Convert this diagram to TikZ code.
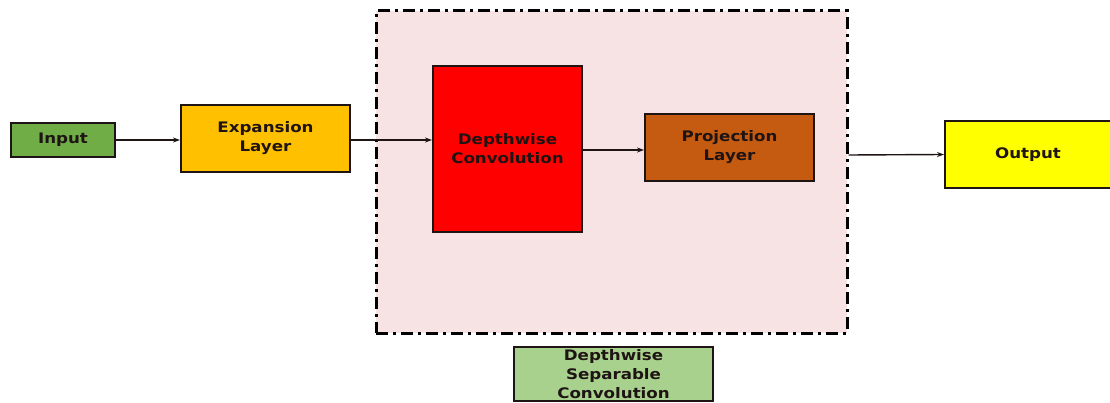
\documentclass[tikz,border=0pt]{standalone}
\usepackage{fontspec}
\setmainfont{DejaVu Sans}
\newfontfamily\lblfont[FakeStretch=1.15]{DejaVu Sans}
\usetikzlibrary{arrows.meta}
\definecolor{ingreen}{HTML}{70AD47}
\definecolor{expgold}{HTML}{FFC000}
\definecolor{projbrown}{HTML}{C55A11}
\definecolor{outyellow}{HTML}{FFFF00}
\definecolor{sepgreen}{HTML}{A9D18E}
\definecolor{pinkbg}{HTML}{F7E3E4}
\definecolor{edge}{HTML}{1E1414}
\tikzset{
  blk/.style={draw=edge, line width=2pt, font=\lblfont\fontsize{14.5}{19}\selectfont\bfseries, text=edge, align=center, inner sep=0pt},
  conn/.style={line width=1.4pt, draw=edge, -{Stealth[length=7pt,width=5pt]}}
}
\begin{document}
\begin{tikzpicture}[x=1pt,y=-1pt]
\useasboundingbox (0,0) rectangle (1110,403);
\begin{scope}
\clip (0,0) rectangle (1110,403);
\node[draw=black, line width=3pt, fill=pinkbg, dash pattern=on 12pt off 5pt on 3pt off 5pt, minimum width=471pt, minimum height=322pt, inner sep=0pt] (dsc) at (611.5,172) {};
\node[blk, fill=ingreen, minimum width=104pt, minimum height=34pt] (in) at (63,140) {Input};
\node[blk, fill=expgold, minimum width=169pt, minimum height=67pt] (exp) at (265.5,138.5) {Expansion\\Layer};
\node[blk, fill=red, minimum width=149pt, minimum height=166pt] (dw) at (507.5,149) {Depthwise\\Convolution};
\node[blk, fill=projbrown, minimum width=169pt, minimum height=67pt] (proj) at (729.5,147.5) {Projection\\Layer};
\node[blk, fill=outyellow, minimum width=166pt, minimum height=67pt] (out) at (1028,154.5) {Output};
\node[blk, fill=sepgreen, minimum width=199pt, minimum height=54pt] (sep) at (613.5,374) {Depthwise\\Separable\\Convolution};
\coordinate (dscout) at (dsc.east |- 0,155);
\draw[conn] (in.east) -- (exp.west |- in.east);
\draw[conn] (exp.east |- 0,140) -- (dw.west |- 0,140);
\draw[conn] (dw.east |- 0,150) -- (proj.west |- 0,150);
\draw[conn] (dscout) -- (out.west);
\end{scope}
\end{tikzpicture}
\end{document}
